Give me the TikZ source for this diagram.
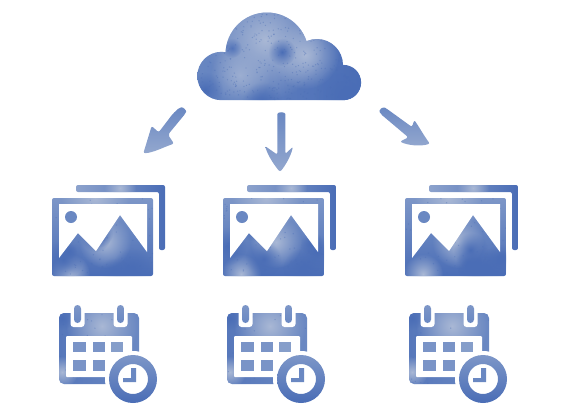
\documentclass[tikz,border=0pt]{standalone}
\usetikzlibrary{fadings}
\definecolor{inkD}{HTML}{4A6DB6}
\definecolor{inkM}{HTML}{6A88C2}
\definecolor{inkL}{HTML}{A9B8D5}
\tikzfading[name=softblob,inner color=transparent!0,outer color=transparent!100]
\newcommand{\blob}[4]{\fill[#4,path fading=softblob] (#1,#2) circle (#3);}
\newcommand{\speck}[6]{\foreach \i in {1,...,#5}{\pgfmathsetmacro\px{#1+rnd*#3}\pgfmathsetmacro\py{#2+rnd*#4}\fill[#6,opacity=.4] (\px,\py) circle (.7);}}
\newcommand{\mottle}[6]{\foreach \i in {1,...,#5}{\pgfmathsetmacro\px{#1+rnd*#3}\pgfmathsetmacro\py{#2+rnd*#4}\pgfmathsetmacro\pr{7+rnd*13}\fill[#6,path fading=softblob] (\px,\py) circle (\pr);}}
\tikzset{
  x=1pt,y=-1pt,
  halo/.style={fill=white},
  arrowink/.style={top color=inkM,bottom color=inkL!65!inkM},
  iconink/.style={top color=inkM!70!inkL,bottom color=inkD},
  pics/pictureicon/.style={code={
    \begin{scope}
      \clip[rounded corners=2] (76,185) -- (165,185) -- (165,250) -- (159,250) -- (159,192) -- (76,192) -- cycle;
      \shade[left color=inkL!55!inkM,right color=inkD] (76,185) rectangle (165,250);
      \blob{120}{188}{16}{inkL}
    \end{scope}
    \begin{scope}
      \clip[rounded corners=2] (52,198) rectangle (153,276);
      \shade[iconink] (52,198) rectangle (153,276);
      \blob{95}{198}{34}{inkL}
      \blob{105}{242}{26}{inkL}
      \blob{70}{274}{20}{inkL}
      \blob{132}{268}{20}{inkD}
      \mottle{52}{225}{101}{50}{5}{inkD}
      \speck{52}{198}{101}{78}{70}{inkD}
    \end{scope}
    \fill[halo] (59,204) -- (147,204) -- (147,252) -- (120,215) -- (96,251) -- (78,233) -- (59,258) -- cycle;
    \fill[inkM] (71,217) circle (6);
  }},
  pics/calendaricon/.style={code={
    \begin{scope}
      \clip[rounded corners=5] (59,313) rectangle (139,384);
      \shade[left color=inkD!60!inkM,right color=inkM] (59,313) rectangle (139,384);
      \blob{102}{326}{36}{inkL}
      \blob{62}{318}{12}{inkD}
      \blob{62}{372}{16}{inkL}
      \speck{59}{313}{80}{71}{35}{inkD}
    \end{scope}
    \fill[halo,rounded corners=3] (70.5,301) rectangle (84.5,327);
    \fill[halo,rounded corners=3] (113.5,301) rectangle (127.5,327);
    \shade[top color=inkM!70!inkL,bottom color=inkM,rounded corners=3.5] (74,305) rectangle (81,323);
    \shade[top color=inkM!70!inkL,bottom color=inkM,rounded corners=3.5] (117,305) rectangle (124,323);
    \fill[halo,rounded corners=1] (66,336) rectangle (132,377);
    \fill[inkM!75!inkL] (73,342) rectangle (86,352);
    \fill[inkM!75!inkL] (93,342) rectangle (105,352);
    \fill[inkM!55!inkL] (111,342) rectangle (123,352);
    \fill[inkM!75!inkL] (73,360) rectangle (86,371);
    \fill[inkM!75!inkL] (93,360) rectangle (105,371);
    \fill[halo] (133,379) circle (28);
    \shade[top color=inkM!70!inkL,bottom color=inkD,even odd rule] (133,379) circle (24) (133,379) circle (15);
    \fill[inkM] (131,368) -- (136,368) -- (136,382) -- (123,382) -- (123,378) -- (131,378) -- cycle;
  }}
}
\begin{document}
\begin{tikzpicture}
\useasboundingbox (0,0) rectangle (570,410);
\pgfmathsetseed{4217}
% cloud
\begin{scope}
  \clip (221.5,76) circle (24.2)
        (221,76) -- (345,76) -- (345,100) -- (221,100) -- cycle
        (267,54) circle (41.5)
        (317,65) circle (26)
        (343.5,82.5) circle (17.6)
        (226,60) -- (320,60) -- (320,80) -- (226,80) -- cycle;
  \shade[left color=inkM,right color=inkD] (190,10) rectangle (365,102);
  \blob{265}{40}{60}{inkL}
  \blob{305}{55}{34}{inkL}
  \blob{240}{75}{30}{inkL!80!inkM}
  \blob{345}{95}{30}{inkD}
  \blob{262}{102}{20}{inkD}
  \blob{205}{90}{18}{inkD}
  \blob{282}{52}{14}{inkD}
  \blob{232}{48}{10}{inkD!70!inkM}
  \speck{197}{12}{165}{88}{420}{inkD}
\end{scope}
% arrows
\begin{scope}[shift={(130,0)},x=.3333pt,y=-.3333pt]
  \shade[arrowink,rounded corners=2] (148,323) .. controls (160,321) and (170,332) .. (166,341) -- (114,404) -- (132,431) .. controls (100,442) and (70,458) .. (40,460) -- (65,378) -- (86,397) -- (128,342) -- cycle;
  \shade[arrowink,rounded corners=2] (442,348) .. controls (442,335) and (466,335) .. (466,348) -- (466,462) -- (489,440) .. controls (482,470) and (465,498) .. (450,516) .. controls (435,498) and (415,470) .. (405,438) -- (442,464) -- cycle;
  \shade[arrowink,rounded corners=2] (752,342) .. controls (745,328) and (760,320) .. (770,326) -- (846,381) -- (853,360) .. controls (870,385) and (885,412) .. (900,431) .. controls (870,440) and (835,436) .. (810,425) -- (835,412) -- cycle;
\end{scope}
% icons
\pic (pA) at (0,0) {pictureicon};
\pic (pB) at (171,0) {pictureicon};
\pic (pC) at (353,0) {pictureicon};
\pic (cA) at (0,0) {calendaricon};
\pic (cB) at (168,0) {calendaricon};
\pic (cC) at (350,0) {calendaricon};
\end{tikzpicture}
\end{document}
